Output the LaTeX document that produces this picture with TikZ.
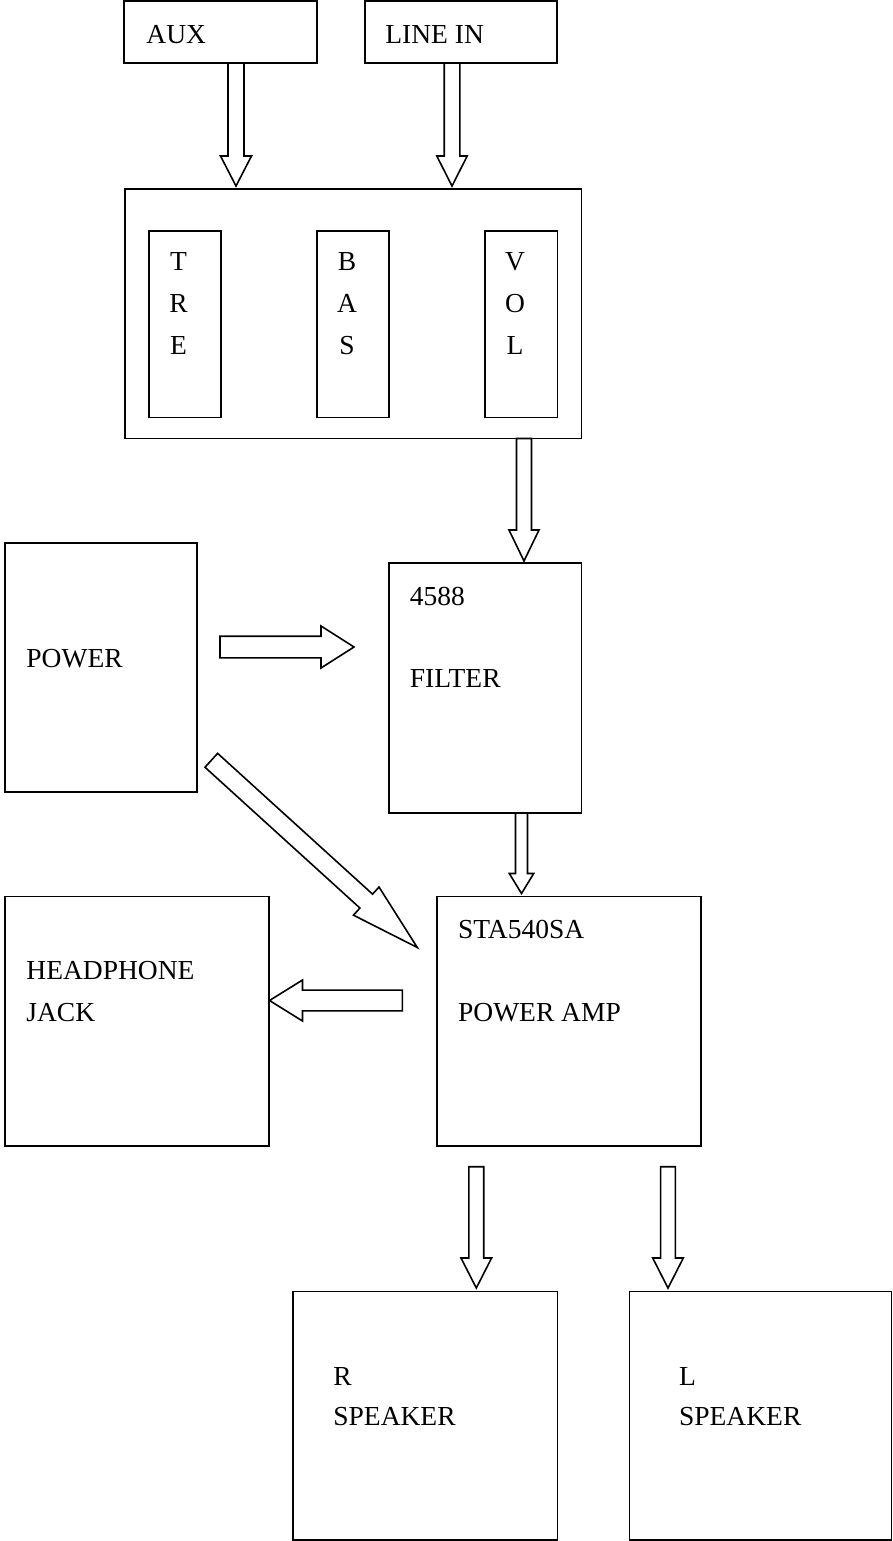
\documentclass[tikz,border=0pt]{standalone}
\usepackage{fontspec}
\setmainfont{Liberation Serif}
\usetikzlibrary{calc,fit}

% hollow block arrow: #1 tail, #2 tip, #3 half shaft, #4 half head, #5 head length
\newcommand{\blockarrow}[5]{%
  \path ($(#2)!#5!(#1)$) coordinate (hb);
  \draw[barrow] ($(#1)!#3!90:(#2)$) -- ($(hb)!#3!90:(#2)$) -- ($(hb)!#4!90:(#2)$)
    -- (#2) -- ($(hb)!#4!-90:(#2)$) -- ($(hb)!#3!-90:(#2)$) -- ($(#1)!#3!-90:(#2)$) -- cycle;
}

\tikzset{
  box/.style={draw,line width=0.8pt,inner sep=0pt,outer sep=0pt},
  barrow/.style={line width=0.8pt,fill=white,line join=miter},
  lbl/.style={inner sep=0pt,anchor=base west,font=\fontsize{13.75}{16}\selectfont},
}

\begin{document}
\begin{tikzpicture}[x=0.5pt,y=-0.5pt]
\useasboundingbox[fill=white] (0,0) rectangle (893,1541);

% ---------- inputs and tone controls ----------
\node[box,fit={(124,1) (317,63)}] (aux) {};
\node[box,fit={(365,1) (557,63)}] (linein) {};
\node[lbl] (t-aux) at (146,43.3) {AUX};
\node[lbl] (t-linein) at (385,43.3) {LINE IN};

\node[box,fit={(125,189) (581.5,438.5)}] (ctrl) {};
\node[box,fit={(149,231) (221,417.5)}] (tre) {};
\node[box,fit={(317,231) (389,417.5)}] (bas) {};
\node[box,fit={(485,231) (557.5,417.5)}] (vol) {};
\foreach \l [count=\i] in {T,R,E}
  \node[lbl,anchor=base] (tre\i) at (178.5,{270+42*(\i-1)}) {\l};
\foreach \l [count=\i] in {B,A,S}
  \node[lbl,anchor=base] (bas\i) at (347,{270+42*(\i-1)}) {\l};
\foreach \l [count=\i] in {V,O,L}
  \node[lbl,anchor=base] (vol\i) at (515,{270+42*(\i-1)}) {\l};

% ---------- power, filter, amplifier ----------
\node[box,fit={(5,543) (197,792)}] (power) {};
\node[lbl] (t-power) at (26,667.3) {POWER};

\node[box,fit={(389,563) (581.5,813)}] (filter) {};
\node[lbl] (t-4588) at (409.5,605) {4588};
\node[lbl] (t-filter) at (409.5,687.7) {FILTER};

\node[box,fit={(437,896.5) (701,1146)}] (amp) {};
\node[lbl] (t-sta) at (457.7,938.3) {STA540SA};
\node[lbl] (t-amp) at (457.7,1021.7) {POWER AMP};

\node[box,fit={(5,896.5) (269,1146)}] (jack) {};
\node[lbl] (t-head) at (26,979) {HEADPHONE};
\node[lbl] (t-jack) at (26,1021) {JACK};

% ---------- speakers ----------
\node[box,fit={(293,1291.5) (557.5,1540)}] (rspk) {};
\node[lbl] (t-r) at (333,1385) {R};
\node[lbl] (t-rspk) at (333,1425) {SPEAKER};
\node[box,fit={(629.5,1291.5) (891.5,1540)}] (lspk) {};
\node[lbl] (t-l) at (678.7,1385) {L};
\node[lbl] (t-lspk) at (678.7,1425) {SPEAKER};

% ---------- block arrows ----------
\coordinate (a1s) at ($(aux.south west)+(112,0)$);
\coordinate (a1e) at ($(ctrl.north west)+(111,-3)$);
\coordinate (a2s) at ($(linein.south west)+(87,0)$);
\coordinate (a2e) at ($(ctrl.north west)+(327,-3)$);
\coordinate (a3s) at ($(ctrl.south west)+(399,0)$);
\coordinate (a3e) at ($(filter.north west)+(135,-2)$);
\coordinate (a4s) at ($(power.east)+(23,-20.5)$);
\coordinate (a4e) at ($(filter.west)+(-35,-41)$);
\coordinate (a5s) at ($(power.south east)+(14.3,-31.7)$);
\coordinate (a5e) at ($(amp.north west)+(-19.7,51)$);
\coordinate (a6s) at ($(amp.west)+(-34.7,-20.75)$);
\coordinate (a6e) at ($(jack.east)+(0.5,-20.75)$);
\coordinate (a7s) at ($(filter.south west)+(132.5,0)$);
\coordinate (a7e) at ($(amp.north west)+(84.5,-3)$);
\coordinate (a8s) at ($(amp.south west)+(39.3,20.7)$);
\coordinate (a8e) at ($(rspk.north west)+(183.3,-3.5)$);
\coordinate (a9s) at ($(amp.south west)+(231,20.7)$);
\coordinate (a9e) at ($(lspk.north west)+(38.5,-3.5)$);

\foreach \s/\e/\w/\h/\l in {a1s/a1e/4pt/7.75pt/15pt, a2s/a2e/3.9pt/7.6pt/15pt,
    a3s/a3e/3.75pt/7.5pt/15.5pt, a4s/a4e/5.4pt/10.5pt/16.5pt,
    a5s/a5e/4.7pt/9.5pt/34.5pt, a6s/a6e/5.2pt/10.25pt/16.5pt,
    a7s/a7e/3pt/6.1pt/10pt, a8s/a8e/3.7pt/7.65pt/15pt, a9s/a9e/3.7pt/7.65pt/15pt}
  \blockarrow{\s}{\e}{\w}{\h}{\l};
\end{tikzpicture}
\end{document}
